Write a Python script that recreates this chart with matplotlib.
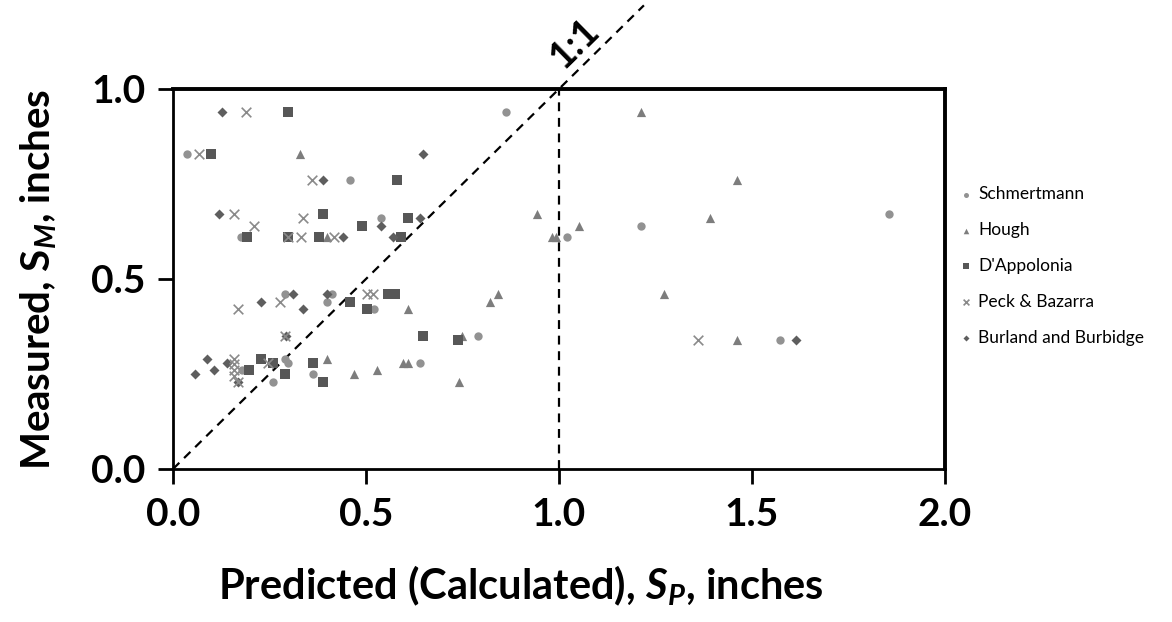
import matplotlib
matplotlib.use("Agg")
import matplotlib.pyplot as plt

plt.rcParams['font.family'] = ['Lato', 'DejaVu Sans']
plt.rcParams['mathtext.fontset'] = 'custom'
plt.rcParams['mathtext.rm'] = 'Lato'
plt.rcParams['mathtext.it'] = 'Lato:italic'
plt.rcParams['mathtext.bf'] = 'Lato:bold'
plt.rcParams['mathtext.bfit'] = 'Lato:bold:italic'

# ---------- data ----------
schm_x = [0.037, 0.459, 0.539, 0.175, 0.862, 1.022, 1.212, 1.855, 1.573, 0.29, 0.411,
          0.40, 0.522, 0.178, 0.29, 0.299, 0.26, 0.362, 0.64, 0.791]
schm_y = [0.83, 0.76, 0.66, 0.61, 0.94, 0.61, 0.64, 0.67, 0.34, 0.46, 0.46,
          0.44, 0.42, 0.26, 0.29, 0.28, 0.23, 0.25, 0.28, 0.35]

hough_x = [0.329, 0.398, 1.212, 0.942, 0.981, 0.992, 1.052, 1.462, 1.392, 1.272, 1.46,
           0.61, 0.40, 0.469, 0.529, 0.597, 0.61, 0.82, 0.841, 0.75, 0.741]
hough_y = [0.83, 0.61, 0.94, 0.67, 0.61, 0.61, 0.64, 0.76, 0.66, 0.46, 0.34,
           0.42, 0.29, 0.25, 0.26, 0.28, 0.28, 0.44, 0.46, 0.35, 0.23]

dapp_x = [0.299, 0.099, 0.58, 0.389, 0.49, 0.61, 0.191, 0.299, 0.378, 0.591, 0.459,
          0.556, 0.576, 0.502, 0.198, 0.229, 0.259, 0.29, 0.362, 0.389, 0.648, 0.739]
dapp_y = [0.94, 0.83, 0.76, 0.67, 0.64, 0.66, 0.61, 0.61, 0.61, 0.61, 0.44,
          0.46, 0.46, 0.42, 0.26, 0.29, 0.28, 0.25, 0.28, 0.23, 0.35, 0.34]

peck_x = [0.189, 0.068, 0.359, 0.158, 0.21, 0.338, 0.299, 0.331, 0.418, 0.277, 0.169,
          0.502, 0.519, 0.29, 0.158, 0.158, 0.158, 0.158, 0.169, 0.247, 1.361]
peck_y = [0.94, 0.83, 0.76, 0.67, 0.64, 0.66, 0.61, 0.61, 0.61, 0.44, 0.42,
          0.46, 0.46, 0.35, 0.29, 0.275, 0.26, 0.245, 0.23, 0.28, 0.34]

burl_x = [0.128, 0.388, 0.119, 0.539, 0.64, 0.44, 0.571, 0.648, 1.614, 0.227, 0.312,
          0.338, 0.40, 0.293, 0.087, 0.139, 0.057, 0.107, 0.169]
burl_y = [0.94, 0.76, 0.67, 0.64, 0.66, 0.61, 0.61, 0.83, 0.34, 0.44, 0.46,
          0.42, 0.46, 0.35, 0.29, 0.28, 0.25, 0.26, 0.23]

fig = plt.figure(figsize=(11.72, 6.22), dpi=100)
ax = fig.add_axes([0.1476, 0.246, 0.6587, 0.611])

ax.scatter(schm_x, schm_y, marker='o', s=36, color='#929292', linewidths=0, label='Schmertmann', zorder=3)
ax.scatter(hough_x, hough_y, marker='^', s=44, color='#7d7d7d', linewidths=0, label='Hough', zorder=3)
ax.scatter(dapp_x, dapp_y, marker='s', s=42, color='#575757', linewidths=0, label="D'Appolonia", zorder=3)
ax.scatter(peck_x, peck_y, marker='x', s=48, color='#8a8a8a', linewidths=1.2, label='Peck & Bazarra', zorder=4)
ax.scatter(burl_x, burl_y, marker='D', s=26, color='#5e5e5e', linewidths=0, label='Burland and Burbidge', zorder=3)

# 1:1 line (runs past the top of the frame) and vertical line at 1.0
ax.plot([0, 1.22], [0, 1.22], ls=(0, (4, 3)), color='black', lw=1.6, clip_on=False, zorder=2)
ax.plot([1.0, 1.0], [0, 1.0], ls=(0, (4, 3)), color='black', lw=1.6, zorder=2)
ax.text(1.04, 1.12, '1:1', rotation=44.5, fontsize=27, fontweight='bold',
        ha='center', va='center', rotation_mode='anchor')

ax.set_xlim(0, 2.0)
ax.set_ylim(0, 1.0)
ax.set_xticks([0.0, 0.5, 1.0, 1.5, 2.0])
ax.set_yticks([0.0, 0.5, 1.0])
ax.set_xticklabels(['0.0', '0.5', '1.0', '1.5', '2.0'])
ax.set_yticklabels(['0.0', '0.5', '1.0'])
ax.tick_params(direction='out', length=11, width=2, labelsize=28, pad=9)
for lab in ax.get_xticklabels() + ax.get_yticklabels():
    lab.set_fontweight('bold')

for side in ['left', 'bottom']:
    ax.spines[side].set_linewidth(2)
for side in ['top', 'right']:
    ax.spines[side].set_linewidth(2.8)

ax.set_xlabel(r'Predicted (Calculated), $\mathbfit{S_P}$, inches', fontsize=30,
              fontweight='bold')
ax.xaxis.set_label_coords(0.45, -0.25)
ax.set_ylabel(r'Measured, $\mathbf{S}_{\mathbfit{M}}$, inches', fontsize=29,
              fontweight='bold')
ax.yaxis.set_label_coords(-0.148, 0.5)

leg = ax.legend(loc='center left', bbox_to_anchor=(1.0, 0.534), frameon=False,
                fontsize=12.5, markerscale=0.6, handletextpad=0.1, labelspacing=1.15,
                borderaxespad=0.2, handlelength=1.2)

fig.savefig('out.png', dpi=100)
